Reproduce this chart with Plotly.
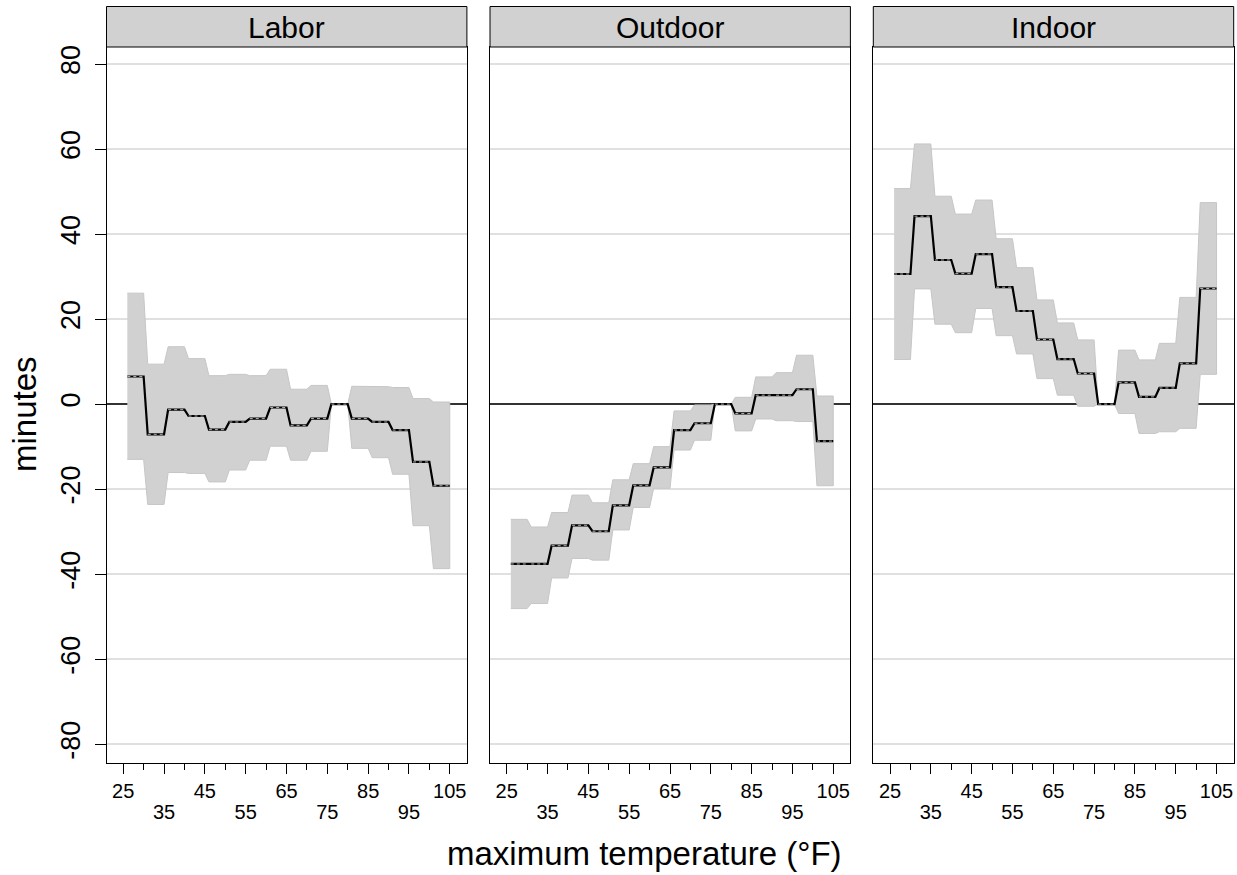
import plotly.graph_objects as go

# ---------------- data ----------------
panels = ["Labor", "Outdoor", "Indoor"]
bin_lo = [26, 31, 36, 41, 46, 51, 56, 61, 66, 71, 76, 81, 86, 91, 96, 101]
bin_hi = [30, 35, 40, 45, 50, 55, 60, 65, 70, 75, 80, 85, 90, 95, 100, 105]

labor_est = [6.5, -7.1, -1.3, -2.8, -6.0, -4.2, -3.4, -0.8, -5.0, -3.4, 0, -3.4, -4.2, -6.1, -13.6, -19.2]
labor_hi = [26.1, 9.4, 13.5, 10.7, 6.7, 7.0, 6.7, 8.2, 3.5, 4.4, 0, 4.2, 4.1, 3.9, 1.3, 0.5]
labor_lo = [-13.0, -23.6, -16.1, -16.3, -18.3, -15.5, -13.2, -9.9, -13.2, -11.1, 0, -10.4, -12.6, -16.5, -28.6, -38.7]

outdoor_est = [-37.6, -37.6, -33.3, -28.5, -29.9, -23.8, -19.1, -14.9, -6.1, -4.5, 0, -2.2, 2.1, 2.1, 3.5, -8.7]
outdoor_hi = [-27.1, -28.9, -25.5, -21.4, -23.2, -17.8, -14.0, -10.0, -1.6, -0.2, 0, 1.6, 6.4, 7.4, 11.5, 1.9]
outdoor_lo = [-48.1, -46.9, -40.9, -36.3, -36.7, -29.6, -24.3, -19.8, -10.8, -8.5, 0, -6.3, -3.5, -3.9, -4.1, -19.2]

indoor_est = [30.6, 44.2, 33.9, 30.7, 35.3, 27.5, 21.9, 15.2, 10.6, 7.2, 0, 5.1, 1.7, 3.8, 9.6, 27.2]
indoor_hi = [50.7, 61.2, 48.9, 44.7, 48.0, 38.9, 32.1, 24.5, 19.1, 15.1, 0, 12.7, 10.4, 14.3, 25.1, 47.4]
indoor_lo = [10.5, 27.1, 18.8, 16.8, 22.5, 16.1, 11.8, 6.0, 2.1, -0.5, 0, -2.2, -6.9, -6.5, -5.7, 7.0]

x_major_vals = [25, 35, 45, 55, 65, 75, 85, 95, 105]
x_row1_vals = [25, 45, 65, 85, 105]
x_row2_vals = [35, 55, 75, 95]
x_row2_text = ["35", "55", "75", "95"]
x_minor_vals = [30, 40, 50, 60, 70, 80, 90, 100]
y_tick_vals = [-80, -60, -40, -20, 0, 20, 40, 60, 80]
y_tick_text = ["-80", "-60", "-40", "-20", "0", "20", "40", "60", "80"]

x_title = "maximum temperature (°F)"
y_title = "minutes"

series = [
    (labor_est, labor_lo, labor_hi),
    (outdoor_est, outdoor_lo, outdoor_hi),
    (indoor_est, indoor_lo, indoor_hi),
]

# ---------------- layout geometry (pixels) ----------------
W, H = 1237, 875
ML, MR, MT, MB = 106, 3, 6, 112
pw = W - ML - MR
ph = H - MT - MB
panel_left_px = [106.5, 490.0, 873.3]
panel_width_px = 360.4
plot_top_px = 47.0
plot_bottom_px = 762.5
strip_top_px = 6.5
X_RANGE = [20.9, 109.2]
Y_RANGE = [-84.3, 84.0]

def clamp(v):
    return max(0.0, min(1.0, v))

def fx(px):
    return clamp((px - ML) / pw)

def fy(py):
    return 1 - (py - MT) / ph

FONT = "Liberation Sans, Arial, Helvetica, sans-serif"
TICK_FS = 20

fig = go.Figure()

for i, (est, lo, hi) in enumerate(series):
    xa = "x" if i == 0 else f"x{i+1}"
    ya = "y" if i == 0 else f"y{i+1}"
    xo = f"x{i+4}"  # overlay axis carrying the second row of tick labels
    xs, up, dn, ys = [], [], [], []
    for a, b, e, l, h in zip(bin_lo, bin_hi, est, lo, hi):
        xs += [a, b]
        ys += [e, e]
        up += [h, h]
        dn += [l, l]
    fig.add_trace(go.Scatter(
        x=xs + xs[::-1], y=up + dn[::-1], fill="toself",
        fillcolor="#d1d1d1", line=dict(color="#c6c6c6", width=1),
        mode="lines", hoverinfo="skip", showlegend=False, xaxis=xa, yaxis=ya))
    fig.add_trace(go.Scatter(
        x=xs, y=ys, mode="lines", line=dict(color="black", width=2.2),
        showlegend=False, xaxis=xa, yaxis=ya))
    hx, hy = [], []
    for a, b, e in zip(bin_lo, bin_hi, est):
        hx += [a, b, None]
        hy += [e, e, None]
    fig.add_trace(go.Scatter(
        x=hx, y=hy, mode="lines", line=dict(color="#b0b0b0", width=1, dash="dot"),
        showlegend=False, hoverinfo="skip", xaxis=xo, yaxis=ya))

layout = dict(
    width=W, height=H,
    margin=dict(l=ML, r=MR, t=MT, b=MB, pad=0, autoexpand=False),
    plot_bgcolor="white", paper_bgcolor="white",
    font=dict(family=FONT, color="black"),
    showlegend=False,
)

ydom = [clamp(fy(plot_bottom_px)), clamp(fy(plot_top_px))]
row1_text_full = [str(v) if v in x_row1_vals else "" for v in x_major_vals]

for i in range(3):
    xk = "xaxis" if i == 0 else f"xaxis{i+1}"
    yk = "yaxis" if i == 0 else f"yaxis{i+1}"
    ok = f"xaxis{i+4}"
    xname = "x" if i == 0 else f"x{i+1}"
    yname = "y" if i == 0 else f"y{i+1}"
    x0 = fx(panel_left_px[i])
    x1 = fx(panel_left_px[i] + panel_width_px)
    layout[xk] = dict(
        domain=[x0, x1], range=X_RANGE, anchor=yname, automargin=False,
        showgrid=False, zeroline=False, showline=True, mirror=True,
        linecolor="black", linewidth=1,
        tickmode="array", tickvals=x_major_vals, ticktext=row1_text_full,
        ticks="outside", ticklen=10, tickwidth=1, tickcolor="black",
        tickfont=dict(size=TICK_FS, family=FONT), ticklabelstandoff=0,
        minor=dict(tickvals=x_minor_vals, ticks="outside", ticklen=6,
                   tickwidth=1, tickcolor="black", showgrid=False),
    )
    layout[ok] = dict(
        overlaying=xname, anchor=yname, side="bottom", range=X_RANGE, automargin=False,
        showgrid=False, zeroline=False, showline=False,
        tickmode="array", tickvals=x_row2_vals, ticktext=x_row2_text,
        ticks="outside", ticklen=10, tickcolor="rgba(0,0,0,0)",
        tickfont=dict(size=TICK_FS, family=FONT), ticklabelstandoff=21,
    )
    layout[yk] = dict(
        domain=ydom, range=Y_RANGE, anchor=xname, automargin=False,
        showgrid=True, gridcolor="#e0e0e0", gridwidth=1.5,
        zeroline=True, zerolinecolor="#333333", zerolinewidth=2,
        showline=True, mirror=True, linecolor="black", linewidth=1,
        tickmode="array", tickvals=y_tick_vals, ticktext=y_tick_text,
        ticks="outside" if i == 0 else "", ticklen=11, tickwidth=1, tickcolor="black",
        showticklabels=(i == 0), tickangle=-90,
        tickfont=dict(size=27, family=FONT), ticklabelstandoff=4,
    )

shapes = []
annotations = []
for i, name in enumerate(panels):
    x0 = fx(panel_left_px[i])
    x1 = fx(panel_left_px[i] + panel_width_px)
    shapes.append(dict(type="rect", xref="paper", yref="paper",
                       x0=x0, x1=x1, y0=fy(plot_top_px), y1=fy(strip_top_px),
                       fillcolor="#d1d1d1", line=dict(color="black", width=1)))
    annotations.append(dict(xref="paper", yref="paper", x=(x0 + x1) / 2,
                            y=fy(27.5),
                            text=name, showarrow=False, xanchor="center", yanchor="middle",
                            font=dict(size=30, family=FONT, color="black")))

# x-axis title
annotations.append(dict(xref="paper", yref="paper", x=(644 - ML) / pw, y=fy(853),
                        text=x_title, showarrow=False, xanchor="center", yanchor="middle",
                        font=dict(size=33, family=FONT, color="black")))
# y-axis title
annotations.append(dict(xref="paper", yref="paper", x=(24 - ML) / pw, y=fy(414),
                        text=y_title, showarrow=False, xanchor="center", yanchor="middle",
                        textangle=-90, font=dict(size=33, family=FONT, color="black")))

layout["shapes"] = shapes
layout["annotations"] = annotations
fig.update_layout(**layout)

# remove the browser's default 8px page margin so the figure sits at the window origin
fig.write_html("out.html", config={"displayModeBar": False},
               post_script="document.body.style.margin='0px';document.body.style.overflow='hidden';")
